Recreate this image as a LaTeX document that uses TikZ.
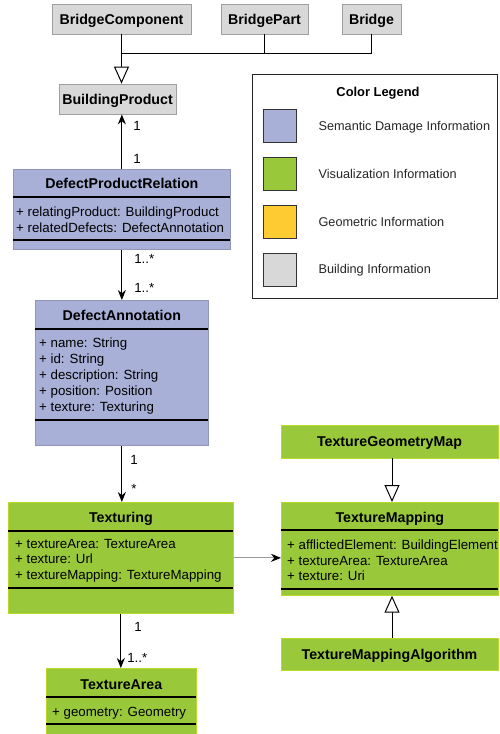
\documentclass[tikz,border=0pt]{standalone}
\usepackage{fontspec}
\setmainfont{Liberation Sans}
\usetikzlibrary{positioning}
\usetikzlibrary{arrows.meta}

\definecolor{semblue}{RGB}{168,176,216}
\definecolor{visgreen}{RGB}{153,201,59}
\definecolor{geoyellow}{RGB}{253,204,51}
\definecolor{bldgray}{RGB}{216,216,216}

\begin{document}
\begin{tikzpicture}[x=1pt, y=-1pt,
                    classbox/.style={rectangle, anchor=north west, inner sep=0pt, line width=0.7pt},
                    bluebox/.style={classbox, fill=semblue, draw=semblue!85!black},
                    greenbox/.style={classbox, fill=visgreen, draw=visgreen!70!yellow},
                    graybox/.style={rectangle, fill=bldgray, draw=gray!75, line width=0.8pt, font=\fontsize{14.2}{17}\selectfont\bfseries, text height=10.2pt, text depth=0pt, inner sep=0pt},
                    greenname/.style={rectangle, fill=visgreen, draw=visgreen!70!yellow, line width=0.7pt, font=\fontsize{14.2}{17}\selectfont\bfseries, text height=10.2pt, text depth=0pt, inner sep=0pt},
                    classname/.style={font=\fontsize{14.2}{17}\selectfont\bfseries, text height=10.2pt, text depth=0pt, inner sep=0pt},
                    attr/.style={anchor=west, font=\fontsize{13.3}{16}\selectfont, text height=9.5pt, text depth=0pt, inner sep=0pt},
                    mult/.style={anchor=west, font=\fontsize{13.3}{16}\selectfont, text height=9.5pt, text depth=0pt, inner sep=0pt},
                    sepline/.style={line width=1.5pt},
                    assoc/.style={-{Stealth[length=10pt,width=8pt]}, line width=1pt},
                    grayassoc/.style={-{Stealth[length=10pt,width=8pt,black]}, draw=gray!80, line width=0.8pt},
                    inherit/.style={-{Triangle[open,length=17pt,width=15pt,fill=white]}, line width=1pt},
                    swatch/.style={rectangle, draw=black!80, line width=0.8pt, minimum width=33pt, minimum height=33pt, inner sep=0pt},
                    legtext/.style={font=\fontsize{12.7}{15}\selectfont, text height=9.1pt, text depth=0pt, inner sep=0pt, text=black!85},
                ]
    \useasboundingbox[fill=white] (0,0) rectangle (500,734);

    %               %Building classes
    \node[graybox, minimum width=139pt, minimum height=30pt] (bc)     at (121.5,19)  {BridgeComponent};
    \node[graybox, minimum width=87pt,  minimum height=30pt] (bpart)  at (264.5,19)  {BridgePart};
    \node[graybox, minimum width=59pt,  minimum height=30pt] (bridge) at (371.5,19)  {Bridge};
    \node[graybox, minimum width=117pt, minimum height=30pt] (bp)     at (117.5,99)  {BuildingProduct};
    \coordinate (join) at (121.5,53);

    %               %DefectProductRelation
    \node[bluebox, minimum width=217pt, minimum height=80pt] (dpr) at (13,169) {};
    \node[classname] (dprname) [below=9pt of dpr.north] {DefectProductRelation};
    \draw[sepline] (13,197) -- (230,197);
    \node[attr] (dpra1) at (16,212) {+ relatingProduct: BuildingProduct};
    \node[attr] (dpra2) at (16,228) {+ relatedDefects: DefectAnnotation};
    \draw[sepline] (13,240) -- (230,240);

    %               %DefectAnnotation
    \node[bluebox, minimum width=173pt, minimum height=145pt] (da) at (35,300) {};
    \node[classname] (daname) [below=10pt of da.north] {DefectAnnotation};
    \draw[sepline] (35,329) -- (208,329);
    \node[attr] (daa1) at (39,343) {+ name: String};
    \node[attr] (daa2) at (39,359) {+ id: String};
    \node[attr] (daa3) at (39,375) {+ description: String};
    \node[attr] (daa4) at (39,391) {+ position: Position};
    \node[attr] (daa5) at (39,407) {+ texture: Texturing};
    \draw[sepline] (35,420) -- (208,420);

    %               %Texturing
    \node[greenbox, minimum width=225pt, minimum height=111pt] (tex) at (8,502) {};
    \node[classname] (texname) [below=10pt of tex.north] {Texturing};
    \draw[sepline] (8,531) -- (233,531);
    \node[attr] (texa1) at (15,544) {+ textureArea: TextureArea};
    \node[attr] (texa2) at (15,559) {+ texture: Url};
    \node[attr] (texa3) at (15,575) {+ textureMapping: TextureMapping};
    \draw[sepline] (8,588) -- (233,588);

    %               %TextureArea
    \node[greenbox, minimum width=150pt, minimum height=80pt] (ta) at (46,668) {};
    \node[classname] (taname) [below=11pt of ta.north] {TextureArea};
    \draw[sepline] (46,697) -- (196,697);
    \node[attr] (taa1) at (52,712) {+ geometry: Geometry};
    \draw[sepline] (46,724) -- (196,724);

    %               %Texture mapping classes
    \node[greenname, minimum width=217pt, minimum height=33pt] (tgm) at (389.5,441.5) {TextureGeometryMap};
    \node[greenbox, minimum width=217pt, minimum height=93pt] (tm) at (281,502) {};
    \node[classname] (tmname) [below=10pt of tm.north] {TextureMapping};
    \draw[sepline] (281,530) -- (498,530);
    \node[attr] (tma1) at (287,545) {+ afflictedElement: BuildingElement};
    \node[attr] (tma2) at (287,561) {+ textureArea: TextureArea};
    \node[attr] (tma3) at (287,576) {+ texture: Uri};
    \draw[sepline] (281,589) -- (498,589);
    \node[greenname, minimum width=217pt, minimum height=32pt] (tma) at (389.5,654) {TextureMappingAlgorithm};

    %               %Legend
    \node[classbox, draw=black!85, line width=1pt, minimum width=245pt, minimum height=224pt] (legend) at (252,74) {};
    \node[classname, font=\fontsize{12.9}{15}\selectfont\bfseries, text height=9.2pt] (legname) at (378,92) {Color Legend};
    \node[swatch, fill=semblue]                          (keysem)  at (279.5,126) {};
    \node[swatch, fill=visgreen, below=14pt of keysem]   (keyvis)  {};
    \node[swatch, fill=geoyellow, below=14pt of keyvis]  (keygeo)  {};
    \node[swatch, fill=bldgray, below=14pt of keygeo]    (keybld)  {};
    \node[legtext, right=22pt of keysem] (legsem) {Semantic Damage Information};
    \node[legtext, right=22pt of keyvis] (legvis) {Visualization Information};
    \node[legtext, right=22pt of keygeo] (leggeo) {Geometric Information};
    \node[legtext, right=22pt of keybld] (legbld) {Building Information};

    %               %Lines
    \draw[line width=1pt] (bridge.south) |- (join);
    \draw[line width=1pt] (bpart.south) -- (bpart.south |- join);
    \draw[inherit] (bc.south) -- (bc.south |- bp.north);
    \draw[assoc] (dpr.north) -- (dpr.north |- bp.south)
        node[mult, pos=0.18, xshift=11pt] {1}
        node[mult, pos=0.8, xshift=11pt] {1};
    \draw[assoc] (dpr.south) -- (dpr.south |- da.north)
        node[mult, pos=0.18, xshift=12pt] {1..*}
        node[mult, pos=0.76, xshift=12pt] {1..*};
    \draw[assoc] (da.south) -- (da.south |- tex.north)
        node[mult, pos=0.25, xshift=8pt] {1}
        node[mult, pos=0.76, xshift=9pt] {*};
    \draw[assoc] (tex.south) -- (tex.south |- ta.north)
        node[mult, pos=0.24, xshift=13pt] {1}
        node[mult, pos=0.82, xshift=6pt] {1..*};
    \draw[grayassoc] (tex.east) -- (tex.east -| tm.west);
    \draw[inherit] ([xshift=2.5pt]tgm.south) -- ([xshift=2.5pt]tgm.south |- tm.north);
    \draw[inherit] ([xshift=2.5pt]tma.north) -- ([xshift=2.5pt]tma.north |- tm.south);
\end{tikzpicture}
\end{document}
